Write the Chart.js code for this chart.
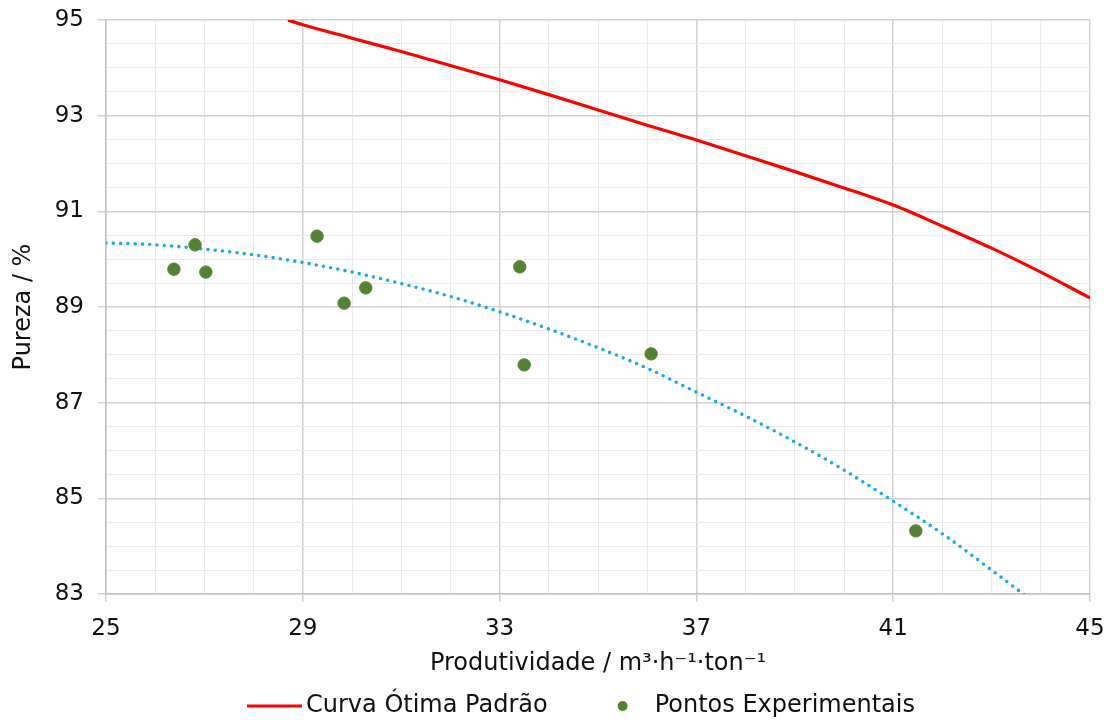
<!DOCTYPE html>
<html>
<head>
<meta charset="utf-8">
<script src="https://cdn.jsdelivr.net/npm/chart.js@4/dist/chart.umd.min.js"></script>
<style>
  html, body { margin: 0; padding: 0; background: #fff; }
  #wrap { width: 1110px; height: 720px; }
</style>
</head>
<body>
<div id="wrap"><canvas id="chart" width="1110" height="720"></canvas></div>
<script>
// Curva Ótima Padrão
const optimalX = [28.7, 29, 30, 31, 32, 33, 34, 35, 36, 37, 38, 39, 40, 41, 42, 43, 44, 45];
const optimalY = [95.0, 94.9, 94.62, 94.34, 94.05, 93.75, 93.44, 93.12, 92.8, 92.49, 92.16, 91.83, 91.49, 91.13, 90.69, 90.23, 89.73, 89.19];

// Pontos Experimentais
const expX = [26.38, 26.81, 27.03, 29.29, 29.84, 30.28, 33.41, 33.50, 36.08, 41.46];
const expY = [89.79, 90.30, 89.73, 90.48, 89.08, 89.40, 89.84, 87.79, 88.02, 84.32];

// tendência (polinomial) dos pontos experimentais
const trendX = [25, 26, 27, 28, 29, 30, 31, 32, 33, 34, 35, 36, 37, 38, 39, 40, 41, 42, 43, 44];
const trendY = [90.34, 90.30, 90.21, 90.09, 89.93, 89.73, 89.49, 89.22, 88.90, 88.54, 88.15, 87.72, 87.22, 86.72, 86.18, 85.59, 84.94, 84.26, 83.50, 82.72];

const xTicks = [25, 29, 33, 37, 41, 45];
const yTicks = [83, 85, 87, 89, 91, 93, 95];

const FONT = "'DejaVu Sans', sans-serif";
const TEXT = '#111';
const MAJOR = '#d0d0d0';
const MINOR = '#e9e9e9';

const toPoints = (xs, ys) => xs.map((x, i) => ({ x: x, y: ys[i] }));

// legend drawn under the x axis title
const bottomLegend = {
  id: 'bottomLegend',
  afterDraw(chart) {
    const ctx = chart.ctx;
    const y = 706;
    const line = chart.data.datasets[0];
    const pts = chart.data.datasets[2];
    ctx.save();
    ctx.font = '24px ' + FONT;
    ctx.textBaseline = 'middle';
    const w1 = ctx.measureText(line.label).width;
    let x = 247;

    ctx.strokeStyle = line.borderColor;
    ctx.lineWidth = 3;
    ctx.beginPath();
    ctx.moveTo(x, y);
    ctx.lineTo(x + 55, y);
    ctx.stroke();
    x += 59;
    ctx.fillStyle = TEXT;
    ctx.fillText(line.label, x, y);
    x += w1 + 75;

    ctx.fillStyle = pts.backgroundColor;
    ctx.beginPath();
    ctx.arc(x, y, 5, 0, Math.PI * 2);
    ctx.fill();
    x += 32;
    ctx.fillStyle = TEXT;
    ctx.fillText(pts.label, x, y);
    ctx.restore();
  }
};

new Chart(document.getElementById('chart'), {
  type: 'scatter',
  data: {
    datasets: [
      {
        label: 'Curva Ótima Padrão',
        data: toPoints(optimalX, optimalY),
        showLine: true,
        borderColor: '#ff0000',
        borderWidth: 3.2,
        pointRadius: 0,
        cubicInterpolationMode: 'monotone',
        order: 3
      },
      {
        label: 'Tendência',
        data: toPoints(trendX, trendY),
        showLine: true,
        borderColor: '#1ea9e6',
        borderWidth: 3.6,
        borderDash: [0, 7.3],
        borderCapStyle: 'round',
        pointRadius: 0,
        cubicInterpolationMode: 'monotone',
        order: 2
      },
      {
        label: 'Pontos Experimentais',
        data: toPoints(expX, expY),
        backgroundColor: '#548235',
        borderColor: '#548235',
        pointRadius: 6.2,
        pointHoverRadius: 6.2,
        order: 1
      }
    ]
  },
  options: {
    responsive: false,
    animation: false,
    layout: { padding: { top: 20, right: 20, bottom: 40, left: 0 } },
    plugins: {
      legend: { display: false },
      tooltip: { enabled: false }
    },
    scales: {
      x: {
        type: 'linear',
        min: 25,
        max: 45,
        // fixed height, and no extra room for the end labels
        afterFit: s => { s.height = 86; s.paddingLeft = 0; s.paddingRight = 0; },
        ticks: {
          stepSize: 1,
          autoSkip: false,
          maxRotation: 0,
          padding: 13,
          color: TEXT,
          font: { family: FONT, size: 23 },
          callback: v => xTicks.includes(v) ? String(v) : ''
        },
        grid: {
          color: c => xTicks.includes(c.tick.value) ? MAJOR : MINOR,
          lineWidth: c => xTicks.includes(c.tick.value) ? 1.5 : 1,
          tickColor: c => xTicks.includes(c.tick.value) ? MAJOR : 'rgba(0,0,0,0)',
          tickLength: 8
        },
        border: { color: '#c2c2c2', width: 1.5 },
        title: {
          display: true,
          text: 'Produtividade / m³·h⁻¹·ton⁻¹',
          color: TEXT,
          font: { family: FONT, size: 24 },
          padding: { top: 0, bottom: 2 }
        }
      },
      y: {
        type: 'linear',
        min: 83,
        max: 95,
        afterFit: s => { s.width = 106; s.paddingTop = 0; s.paddingBottom = 0; },
        ticks: {
          stepSize: 0.5,
          autoSkip: false,
          padding: 14,
          color: TEXT,
          font: { family: FONT, size: 23 },
          callback: v => yTicks.includes(v) ? String(v) : ''
        },
        grid: {
          color: c => yTicks.includes(c.tick.value) ? MAJOR : MINOR,
          lineWidth: c => yTicks.includes(c.tick.value) ? 1.5 : 1,
          tickColor: c => yTicks.includes(c.tick.value) ? MAJOR : 'rgba(0,0,0,0)',
          tickLength: 8
        },
        border: { color: '#c2c2c2', width: 1.5 },
        title: {
          display: true,
          text: 'Pureza / %',
          color: TEXT,
          font: { family: FONT, size: 24 },
          padding: { top: 9, bottom: 0 }
        }
      }
    }
  },
  plugins: [bottomLegend]
});
</script>
</body>
</html>
